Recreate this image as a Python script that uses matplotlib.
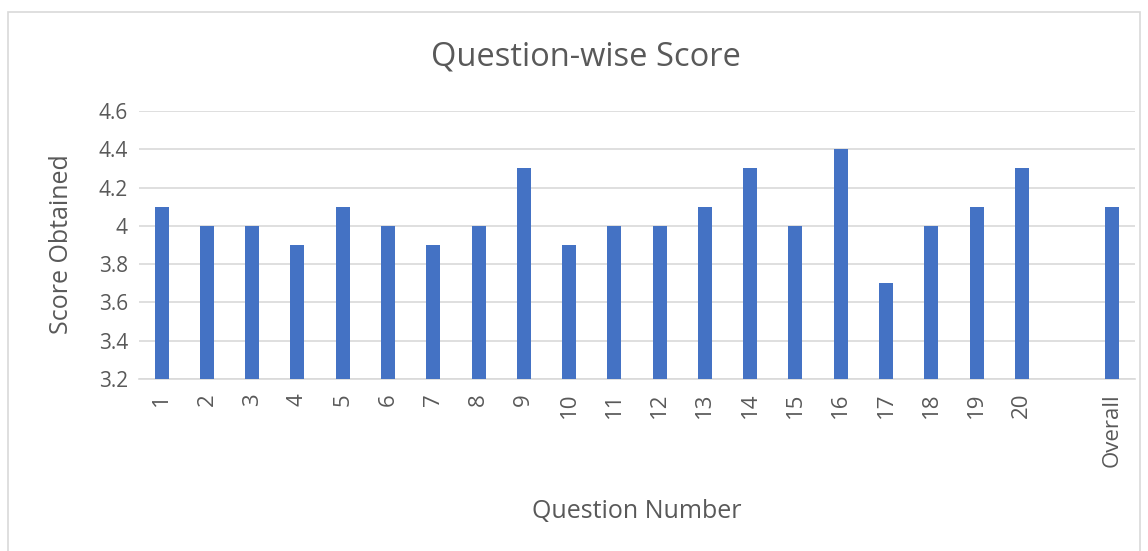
import matplotlib.pyplot as plt
from matplotlib.patches import Rectangle

# data
categories = [str(i) for i in range(1, 21)] + ["", "Overall"]
scores = [4.1, 4.0, 4.0, 3.9, 4.1, 4.0, 3.9, 4.0, 4.3, 3.9,
          4.0, 4.0, 4.1, 4.3, 4.0, 4.4, 3.7, 4.0, 4.1, 4.3,
          None, 4.1]
y_ticks = [3.2, 3.4, 3.6, 3.8, 4.0, 4.2, 4.4, 4.6]
y_tick_labels = ["3.2", "3.4", "3.6", "3.8", "4", "4.2", "4.4", "4.6"]

text_color = "#595959"
bar_color = "#4472C4"
plt.rcParams['font.family'] = ['Open Sans', 'DejaVu Sans']

fig = plt.figure(figsize=(11.48, 5.51), dpi=100)
ax = fig.add_axes([139 / 1148, 1 - 379 / 551, (1135 - 139) / 1148, (379 - 111) / 551])

xs = [i for i, v in enumerate(scores) if v is not None]
vals = [v for v in scores if v is not None]
ax.bar(xs, [v - 3.2 for v in vals], bottom=3.2, width=0.31, color=bar_color, zorder=3)

ax.set_xlim(-0.5, len(categories) - 0.5)
ax.set_ylim(3.2, 4.6)
ax.set_yticks(y_ticks)
ax.set_yticklabels(y_tick_labels, fontsize=15, color=text_color)
ax.set_xticks(range(len(categories)))
ax.set_xticklabels(categories, rotation=90, fontsize=16, color=text_color)
ax.tick_params(axis='both', length=0)
ax.tick_params(axis='x', pad=10)
ax.tick_params(axis='y', pad=8)

ax.grid(axis='y', color='#D9D9D9', linewidth=1.2, zorder=0)
for side in ['top', 'right', 'left']:
    ax.spines[side].set_visible(False)
ax.spines['bottom'].set_color('#D9D9D9')
ax.spines['bottom'].set_linewidth(1.2)

fig.text(62 / 1148, 1 - 244 / 551, "Score Obtained", fontsize=18, rotation=90,
         color=text_color, ha='center', va='center')
fig.text(637 / 1148, 1 - 511 / 551, "Question Number", fontsize=18,
         color=text_color, ha='center', va='center')
fig.text(586 / 1148, 1 - 57 / 551, "Question-wise Score", fontsize=23.5,
         color=text_color, ha='center', va='center')

# light border around the chart area
fig.patches.append(Rectangle((8 / 1148, -0.01), (1140 - 8) / 1148, 1 - 12 / 551 + 0.01,
                             transform=fig.transFigure, fill=False,
                             edgecolor='#D9D9D9', linewidth=1.2))

fig.savefig("out.png", dpi=100, facecolor='white')
